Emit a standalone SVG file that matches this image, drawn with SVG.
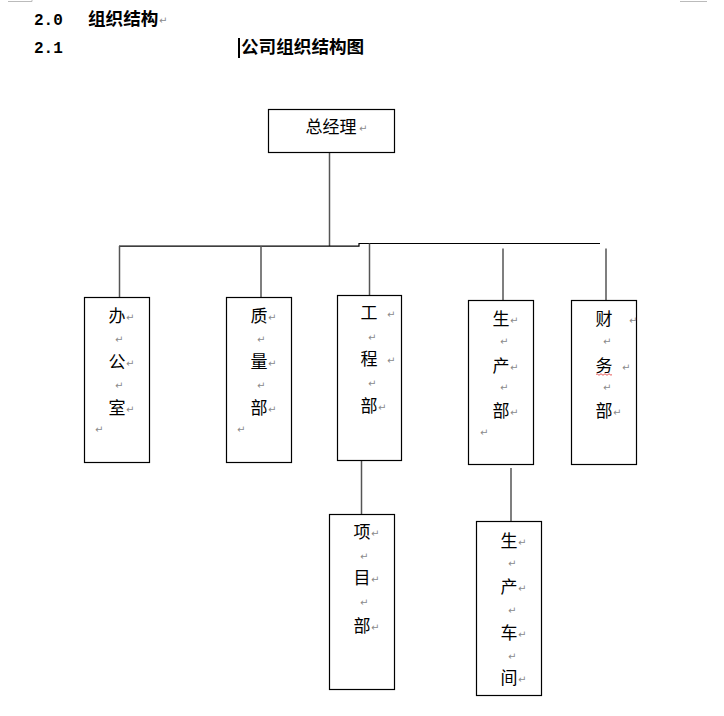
<svg xmlns="http://www.w3.org/2000/svg" width="724" height="716" viewBox="0 0 724 716">
<style>
.box{fill:#fff;stroke:#000;stroke-width:1.2}
.ch{font-family:"Noto Sans CJK SC","Liberation Sans",sans-serif;font-size:17px;fill:#000;text-anchor:middle}
.pm{font-family:"DejaVu Sans",sans-serif;font-size:10px;fill:#8a8a8a}
.h{font-family:"Noto Sans CJK SC","Liberation Sans",sans-serif;font-size:17.6px;font-weight:bold;fill:#000}
.hn{font-family:"Liberation Mono",monospace;font-size:16px;font-weight:bold;fill:#000}
.con{stroke:#555;stroke-width:1.5;fill:none}
.hl{stroke:#000;stroke-width:1.2;fill:none}
</style>
<rect width="724" height="716" fill="#fff"/>
<g id="cropmarks" stroke="#bbb" stroke-width="1" fill="none">
<path d="M8 1.5H32V0"/>
<path d="M680 1.5H707"/>
</g>
<g id="heading">
<text class="hn" x="34" y="25">2.0</text>
<text class="h" x="88" y="25">组织结构</text>
<text class="pm" x="159" y="24">↵</text>
<text class="hn" x="34" y="53">2.1</text>
<rect x="238" y="38" width="2" height="20" fill="#000"/>
<text class="h" x="241" y="53">公司组织结构图</text>
</g>
<g id="connectors">
<path class="con" d="M329.5 152V246"/>
<path class="hl" d="M119 246.2H359V243.5H600"/>
<path class="con" d="M119.5 246V297"/>
<path class="con" d="M261 246V297"/>
<path class="con" d="M369.5 243.5V295"/>
<path class="con" d="M503 248.5V300"/>
<path class="con" d="M606 248.5V300"/>
<path class="con" d="M361.5 460V514"/>
<path class="con" d="M511 468V521"/>
</g>
<g id="n-zjl">
<rect class="box" x="268.5" y="109.5" width="126" height="43"/>
<text class="ch" x="331" y="133">总经理</text>
<text class="pm" x="359" y="132">↵</text>
</g>
<g id="n-bgs">
<rect class="box" x="84.5" y="297.5" width="65" height="165"/>
<text class="ch" x="117" y="322">办</text><text class="pm" x="126" y="321">↵</text>
<text class="pm" x="115" y="343">↵</text>
<text class="ch" x="117" y="368">公</text><text class="pm" x="126" y="367">↵</text>
<text class="pm" x="115" y="389">↵</text>
<text class="ch" x="117" y="414">室</text><text class="pm" x="126" y="413">↵</text>
<text class="pm" x="95" y="433">↵</text>
</g>
<g id="n-zlb">
<rect class="box" x="226.5" y="297.5" width="65" height="165"/>
<text class="ch" x="259" y="322">质</text><text class="pm" x="268" y="321">↵</text>
<text class="pm" x="257" y="343">↵</text>
<text class="ch" x="259" y="368">量</text><text class="pm" x="268" y="367">↵</text>
<text class="pm" x="257" y="389">↵</text>
<text class="ch" x="259" y="414">部</text><text class="pm" x="268" y="413">↵</text>
<text class="pm" x="237" y="433">↵</text>
</g>
<g id="n-gcb">
<rect class="box" x="337.5" y="295.5" width="64" height="165"/>
<text class="ch" x="369" y="319">工</text><text class="pm" x="387" y="318">↵</text>
<text class="pm" x="368" y="341">↵</text>
<text class="ch" x="369" y="365">程</text><text class="pm" x="387" y="364">↵</text>
<text class="pm" x="368" y="387">↵</text>
<text class="ch" x="369" y="412">部</text><text class="pm" x="378" y="411">↵</text>
</g>
<g id="n-scb">
<rect class="box" x="468.5" y="300.5" width="65" height="164"/>
<text class="ch" x="501" y="325">生</text><text class="pm" x="510" y="324">↵</text>
<text class="pm" x="500" y="345">↵</text>
<text class="ch" x="501" y="372">产</text><text class="pm" x="510" y="371">↵</text>
<text class="pm" x="500" y="391">↵</text>
<text class="ch" x="501" y="417">部</text><text class="pm" x="510" y="416">↵</text>
<text class="pm" x="480" y="436">↵</text>
</g>
<g id="n-cwb">
<rect class="box" x="571.5" y="300.5" width="65" height="164"/>
<text class="ch" x="604" y="325">财</text><text class="pm" x="629" y="324">↵</text>
<text class="pm" x="603" y="345">↵</text>
<text class="ch" x="604" y="372">务</text><text class="pm" x="622" y="371">↵</text>
<path d="M596 374.5q1-1.5 2 0t2 0 2 0 2 0 2 0 2 0 2 0 2 0" stroke="#e03030" stroke-width="0.8" fill="none"/>
<text class="pm" x="603" y="391">↵</text>
<text class="ch" x="604" y="417">部</text><text class="pm" x="613" y="416">↵</text>
</g>
<g id="n-xmb">
<rect class="box" x="329.5" y="514.5" width="65" height="175"/>
<text class="ch" x="362" y="538">项</text><text class="pm" x="371" y="537">↵</text>
<text class="pm" x="360" y="560">↵</text>
<text class="ch" x="362" y="584">目</text><text class="pm" x="371" y="583">↵</text>
<text class="pm" x="360" y="606">↵</text>
<text class="ch" x="362" y="632">部</text><text class="pm" x="371" y="631">↵</text>
</g>
<g id="n-sccj">
<rect class="box" x="476.5" y="521.5" width="65" height="174"/>
<text class="ch" x="509" y="547">生</text><text class="pm" x="518" y="546">↵</text>
<text class="pm" x="508" y="567">↵</text>
<text class="ch" x="509" y="593">产</text><text class="pm" x="518" y="592">↵</text>
<text class="pm" x="508" y="614">↵</text>
<text class="ch" x="509" y="639">车</text><text class="pm" x="518" y="638">↵</text>
<text class="pm" x="508" y="660">↵</text>
<text class="ch" x="509" y="684">间</text><text class="pm" x="518" y="683">↵</text>
</g>
</svg>
